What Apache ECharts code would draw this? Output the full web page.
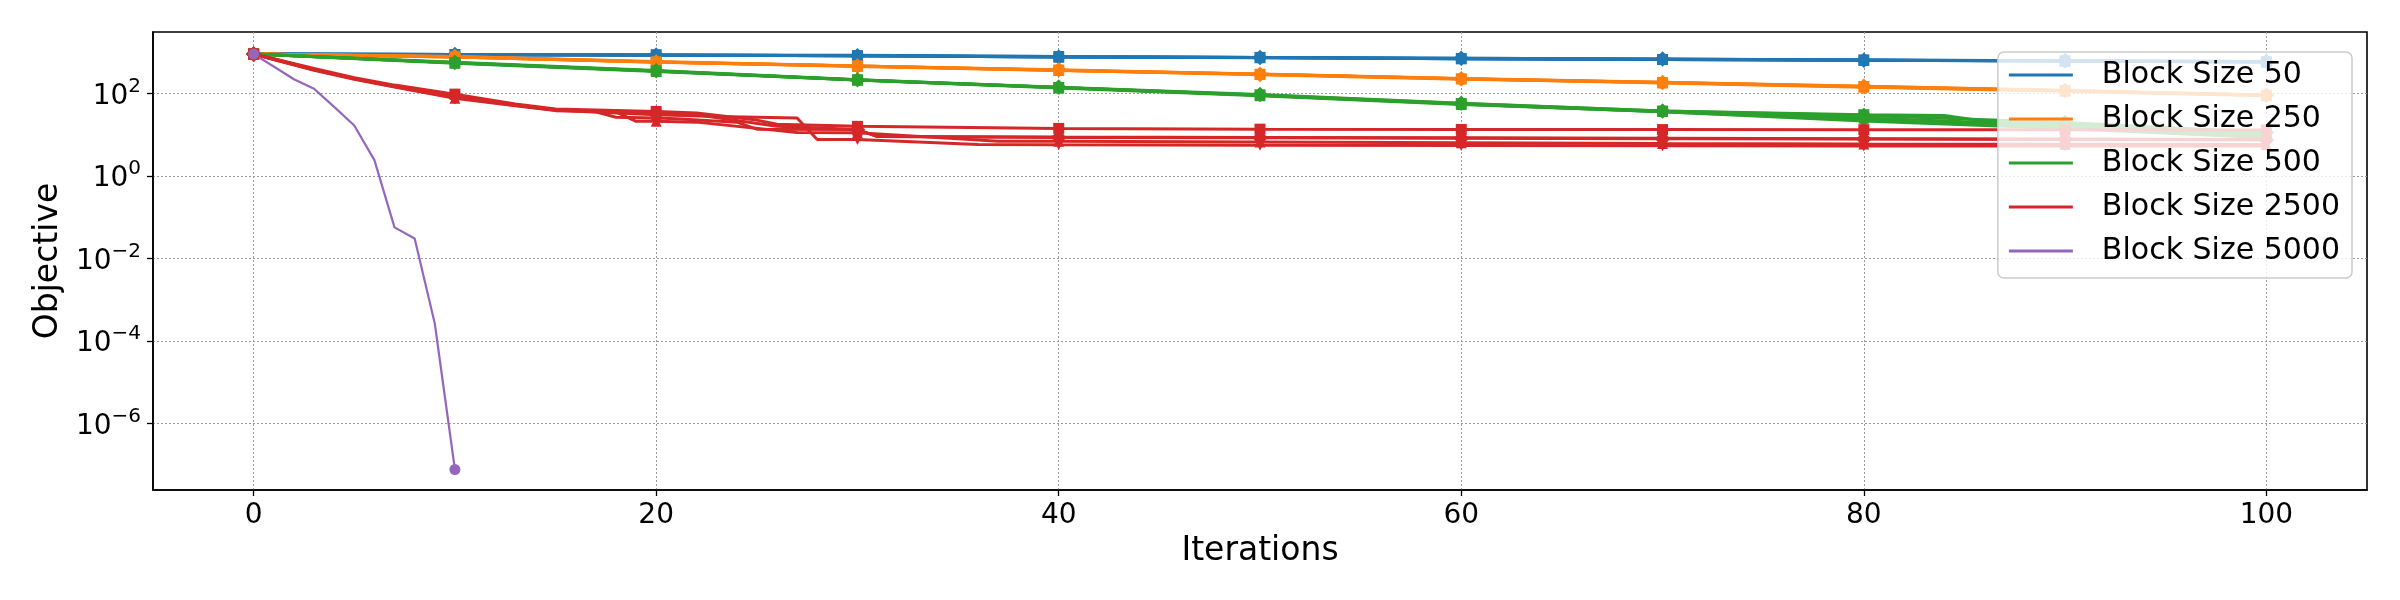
<!DOCTYPE html>
<html><head><meta charset="utf-8">
<script src="https://cdn.jsdelivr.net/npm/echarts@6/dist/echarts.min.js"></script>
<style>html,body{margin:0;padding:0;background:#fff}#c{width:2400px;height:600px}</style>
</head><body><div id="c"></div>
<script>
// ---------- data (objective values) ----------
const seriesNames = ['Block Size 50', 'Block Size 250', 'Block Size 500', 'Block Size 2500', 'Block Size 5000'];
const xTicks = [0, 20, 40, 60, 80, 100];
const yTickExponents = [-6, -4, -2, 0, 2];
const iters10 = [0, 10, 20, 30, 40, 50, 60, 70, 80, 90, 100];

// Block Size 50 (5 runs, every 10 iterations)
const bs50X = [iters10, iters10, iters10, iters10, iters10];
const bs50Y = [
  [891, 871, 851, 813, 759, 741, 692, 661, 631, 603, 575],
  [891, 871, 851, 832, 776, 741, 708, 676, 646, 617, 589],
  [891, 871, 832, 813, 759, 724, 692, 661, 631, 603, 575],
  [891, 851, 851, 813, 776, 741, 692, 661, 646, 603, 575],
  [891, 871, 851, 813, 759, 741, 708, 676, 631, 617, 589]
];
// Block Size 250
const bs250X = [iters10, iters10, iters10, iters10, iters10];
const bs250Y = [
  [891, 759, 575, 457, 363, 288, 224, 182, 145, 115, 89.1],
  [891, 776, 589, 457, 363, 295, 229, 186, 148, 117, 91.2],
  [891, 759, 575, 447, 355, 288, 224, 178, 141, 112, 87.1],
  [891, 759, 562, 457, 363, 282, 219, 182, 145, 115, 89.1],
  [891, 776, 575, 457, 372, 288, 224, 182, 148, 117, 89.1]
];
// Block Size 500
const bs500X = [
  [0, 10, 20, 30, 40, 50, 60, 70, 80, 84, 86, 90, 100],
  iters10, iters10, iters10, iters10
];
const bs500Y = [
  [891, 550, 347, 209, 138, 91.2, 56.2, 37.2, 30.2, 28.8, 20.9, 18.2, 10.0],
  [891, 550, 347, 209, 138, 89.1, 55.0, 35.5, 22.9, 15.8, 8.91],
  [891, 537, 339, 209, 135, 87.1, 53.7, 36.3, 25.1, 16.6, 10.5],
  [891, 550, 347, 214, 138, 89.1, 55.0, 35.5, 21.4, 14.1, 8.32],
  [891, 562, 355, 214, 141, 93.3, 57.5, 37.2, 28.8, 19.5, 11.2]
];
// Block Size 2500
const bs2500X = [
  [0, 1, 3, 5, 7, 10, 13, 15, 20, 22, 25, 26, 30, 40, 50, 60, 70, 80, 90, 100],
  [0, 1, 3, 5, 7, 10, 13, 15, 17, 18, 20, 21, 24, 25, 30, 31, 40, 50, 60, 70, 80, 90, 100],
  [0, 1, 3, 5, 7, 10, 13, 15, 18, 19, 20, 22, 27, 30, 35, 37, 40, 50, 60, 70, 80, 90, 100],
  [0, 1, 3, 5, 7, 10, 13, 15, 20, 23, 27, 28, 30, 36, 40, 50, 60, 70, 80, 90, 100],
  [0, 1, 3, 5, 7, 10, 13, 15, 20, 22, 26, 30, 31, 40, 50, 60, 70, 80, 90, 100]
];
const bs2500Y = [
  [891, 692, 398, 240, 158, 95.5, 55.0, 41.7, 36.3, 33.1, 22.4, 17.8, 15.8, 14.1, 13.5, 13.3, 13.2, 13.1, 13.0, 12.9],
  [891, 676, 380, 229, 151, 87.1, 52.5, 39.8, 35.5, 26.3, 25.1, 24.0, 20.0, 13.5, 13.2, 8.91, 8.71, 8.51, 8.32, 8.13, 7.94, 7.76, 7.59],
  [891, 661, 363, 219, 141, 75.9, 50.1, 38.0, 35.5, 20.9, 20.9, 20.0, 11.2, 11.0, 7.94, 6.92, 6.92, 6.61, 6.31, 6.03, 5.89, 5.82, 5.75],
  [891, 661, 372, 224, 145, 79.4, 51.3, 38.9, 30.2, 27.5, 25.1, 7.59, 7.59, 5.75, 5.62, 5.50, 5.43, 5.37, 5.31, 5.25, 5.25],
  [891, 676, 380, 229, 148, 83.2, 52.5, 39.8, 33.1, 30.2, 15.8, 13.2, 8.91, 8.51, 8.32, 8.13, 7.94, 7.76, 7.59, 7.41]
];
// Block Size 5000 (single run, converges after 10 iterations)
const bs5000X = [[0, 1, 2, 3, 4, 5, 6, 7, 8, 9, 10]];
const bs5000Y = [[891, 447, 219, 129, 46.8, 16.6, 2.40, 0.0562, 0.0302, 2.63e-4, 7.59e-8]];

// ---------- styles ----------
const colors = ['#1f77b4', '#ff7f0e', '#2ca02c', '#d62728', '#9467bd'];
const runShapes = ['rect', 'circle', 'triangle', 'triangle', 'rect'];
const runRotations = [0, 0, 0, 180, 45];
const FONT = 'DejaVu Sans';

const blocks = [
  [bs50X, bs50Y], [bs250X, bs250Y], [bs500X, bs500Y], [bs2500X, bs2500Y], [bs5000X, bs5000Y]
];

const series = [];
blocks.forEach(([xs, ys], b) => {
  xs.forEach((xArr, r) => {
    const shape = b === 4 ? 'circle' : runShapes[r];
    series.push({
      type: 'line',
      name: seriesNames[b],
      data: xArr.map((x, k) => [x, Math.log10(ys[r][k])]),
      symbol: function (v) { return v[0] % 10 === 0 ? shape : 'none'; },
      symbolSize: 11,
      symbolRotate: b === 4 ? 0 : runRotations[r],
      showSymbol: true,
      lineStyle: { width: b === 4 ? 2.2 : 3, color: colors[b] },
      itemStyle: { color: colors[b] },
      emphasis: { disabled: true },
      animation: false,
      clip: true
    });
  });
});

function expLabel(e) {
  return e < 0 ? '\u2212' + (-e) : String(e);
}

const option = {
  backgroundColor: '#fff',
  animation: false,
  grid: { left: 153, right: 33, top: 32, bottom: 110, containLabel: false,
          show: true, borderColor: '#000', borderWidth: 1.6, backgroundColor: 'transparent' },
  xAxis: {
    type: 'value', min: -5, max: 105,
    name: 'Iterations', nameLocation: 'middle', nameGap: 42,
    nameTextStyle: { fontFamily: FONT, fontSize: 33, color: '#000' },
    axisLine: { show: true, onZero: false, lineStyle: { color: '#000', width: 1.6 } },
    axisTick: { show: true, inside: false, length: 6, customValues: xTicks, lineStyle: { color: '#000', width: 1.3 } },
    axisLabel: { customValues: xTicks, margin: 12, fontFamily: FONT, fontSize: 28, color: '#000' },
    splitLine: { show: true, lineStyle: { color: '#999', width: 1, type: [2, 2] } }
  },
  yAxis: {
    type: 'value', min: -7.617, max: 3.486,
    name: 'Objective', nameLocation: 'middle', nameGap: 86, nameRotate: 90,
    nameTextStyle: { fontFamily: FONT, fontSize: 33, color: '#000' },
    axisLine: { show: true, onZero: false, lineStyle: { color: '#000', width: 1.6 } },
    axisTick: { show: true, inside: false, length: 6, customValues: yTickExponents, lineStyle: { color: '#000', width: 1.3 } },
    axisLabel: {
      customValues: yTickExponents, margin: 12, color: '#000',
      formatter: function (v) { return '{b|10}{s|' + expLabel(Math.round(v)) + '}'; },
      rich: {
        b: { fontFamily: FONT, fontSize: 28, color: '#000', lineHeight: 34, verticalAlign: 'bottom' },
        s: { fontFamily: FONT, fontSize: 20, color: '#000', lineHeight: 20, verticalAlign: 'top' }
      }
    },
    splitLine: { show: true, lineStyle: { color: '#999', width: 1, type: [2, 2] } }
  },
  legend: {
    orient: 'vertical', right: 48, top: 52,
    data: seriesNames,
    icon: 'path://M0,0H64V3H0Z',
    itemWidth: 64, itemHeight: 3, itemGap: 10,
    selectedMode: false,
    padding: [6, 12, 10, 11],
    backgroundColor: 'rgba(255,255,255,0.8)',
    borderColor: '#cccccc', borderWidth: 1.5, borderRadius: 6,
    textStyle: { fontFamily: FONT, fontSize: 30, color: '#000', lineHeight: 34, padding: [0, 0, 0, 24] }
  },
  series: series
};

const chart = echarts.init(document.getElementById('c'), null, { renderer: 'canvas' });
chart.setOption(option);
</script>
</body></html>
